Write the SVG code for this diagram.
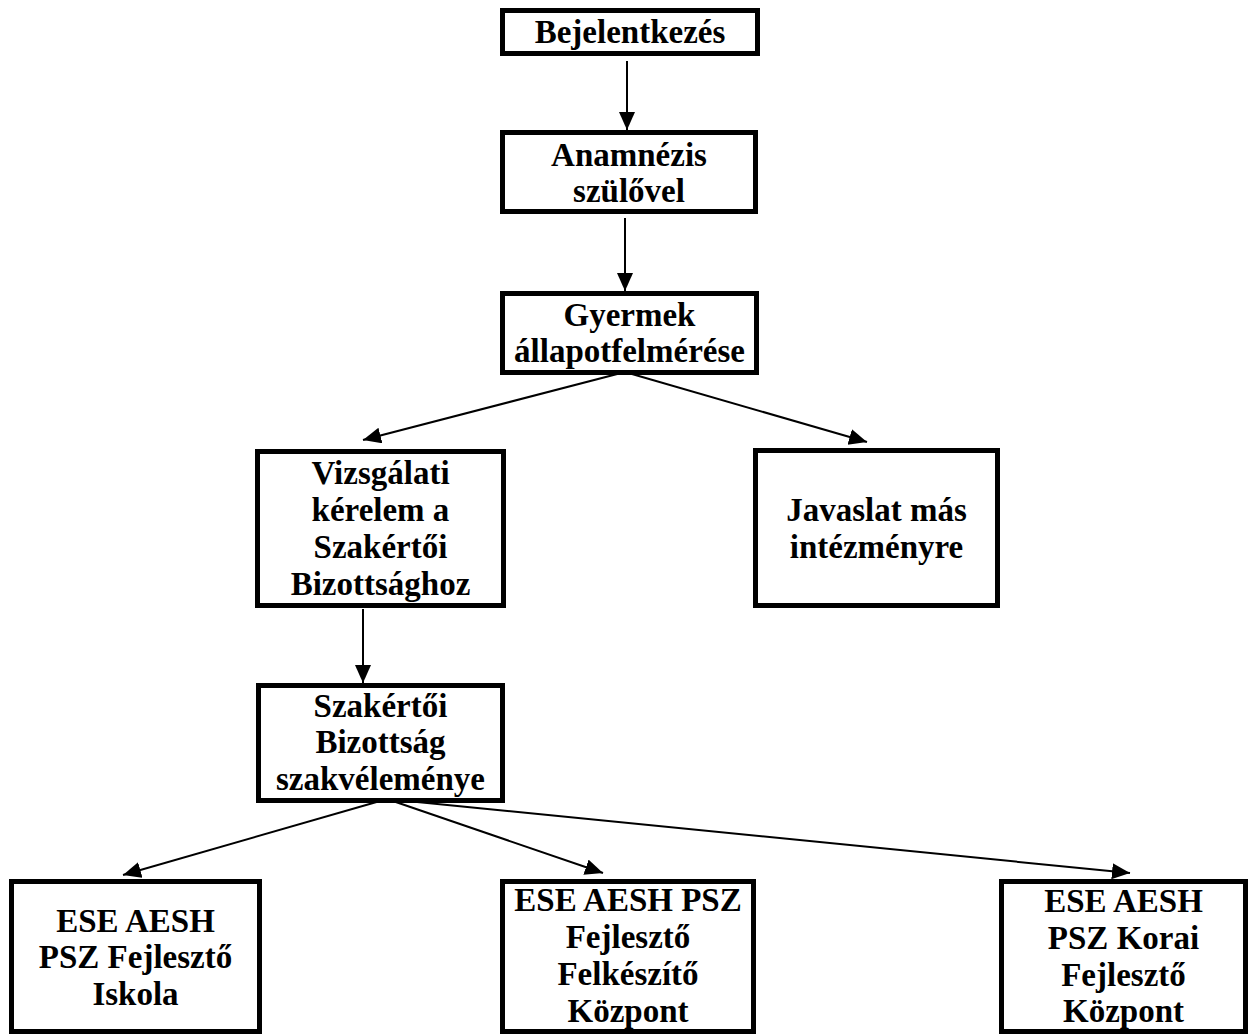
<svg xmlns="http://www.w3.org/2000/svg" width="1249" height="1034" viewBox="0 0 1249 1034">
<style>
.box{fill:#fff;stroke:#000;stroke-width:5}
.t{font-family:"Liberation Serif","Times New Roman",serif;font-weight:bold;font-size:33px;text-anchor:middle;fill:#000}
.c{stroke:#000;stroke-width:2;fill:none;marker-end:url(#ah)}
</style>
<defs>
<marker id="ah" markerUnits="userSpaceOnUse" markerWidth="19" markerHeight="17" refX="18" refY="8" orient="auto" viewBox="0 0 19 17">
<path d="M0,0 L18,8 L0,16 z" fill="#000"/>
</marker>
</defs>
<rect width="1249" height="1034" fill="#fff"/>
<g id="n1"><rect class="box" x="502.5" y="10.5" width="255" height="43"/><text class="t" x="630" y="43">Bejelentkezés</text></g>
<g id="n2"><rect class="box" x="502.5" y="132.5" width="253" height="79"/><text class="t" x="629" y="166">Anamnézis</text><text class="t" x="629" y="202">szülővel</text></g>
<g id="n3"><rect class="box" x="502.5" y="293.5" width="254" height="79"/><text class="t" x="629.5" y="326">Gyermek</text><text class="t" x="629.5" y="362">állapotfelmérése</text></g>
<g id="n4"><rect class="box" x="257.5" y="451.5" width="246" height="154"/><text class="t" x="380.5" y="484">Vizsgálati</text><text class="t" x="380.5" y="521">kérelem a</text><text class="t" x="380.5" y="558">Szakértői</text><text class="t" x="380.5" y="595">Bizottsághoz</text></g>
<g id="n5"><rect class="box" x="755.5" y="450.5" width="242" height="155"/><text class="t" x="876.5" y="521">Javaslat más</text><text class="t" x="876.5" y="558">intézményre</text></g>
<g id="n6"><rect class="box" x="258.5" y="685.5" width="244" height="115"/><text class="t" x="380.5" y="717">Szakértői</text><text class="t" x="380.5" y="753">Bizottság</text><text class="t" x="380.5" y="790">szakvéleménye</text></g>
<g id="n7"><rect class="box" x="11.5" y="881.5" width="248" height="150"/><text class="t" x="135.5" y="932">ESE AESH</text><text class="t" x="135.5" y="968">PSZ Fejlesztő</text><text class="t" x="135.5" y="1005">Iskola</text></g>
<g id="n8"><rect class="box" x="502.5" y="881.5" width="251" height="150"/><text class="t" x="628" y="911">ESE AESH PSZ</text><text class="t" x="628" y="948">Fejlesztő</text><text class="t" x="628" y="985">Felkészítő</text><text class="t" x="628" y="1022">Központ</text></g>
<g id="n9"><rect class="box" x="1001.5" y="881.5" width="244" height="150"/><text class="t" x="1123.5" y="912">ESE AESH</text><text class="t" x="1123.5" y="949">PSZ Korai</text><text class="t" x="1123.5" y="986">Fejlesztő</text><text class="t" x="1123.5" y="1022">Központ</text></g>
<g id="connectors">
<line class="c" x1="627" y1="61" x2="627" y2="130"/>
<line class="c" x1="625" y1="218" x2="625" y2="291"/>
<line class="c" x1="625" y1="372" x2="363" y2="440"/>
<line class="c" x1="625" y1="372" x2="867" y2="442"/>
<line class="c" x1="363" y1="609" x2="363" y2="683"/>
<line class="c" x1="387" y1="799" x2="123" y2="875"/>
<line class="c" x1="387" y1="799" x2="603" y2="873"/>
<line class="c" x1="387" y1="799" x2="1130" y2="873"/>
</g>
</svg>
